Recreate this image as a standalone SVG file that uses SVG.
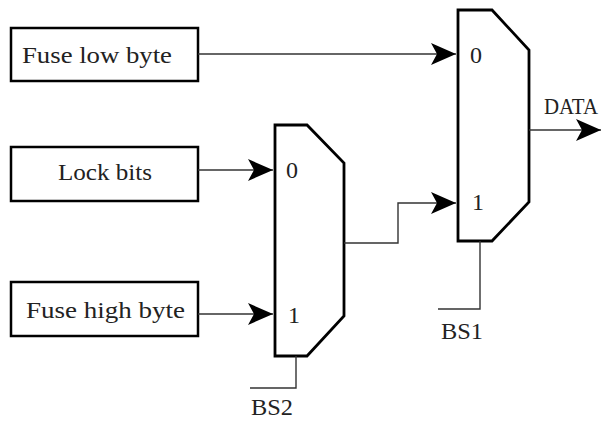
<svg xmlns="http://www.w3.org/2000/svg" width="603" height="421" viewBox="0 0 603 421">
<style>
.box{fill:#fff;stroke:#000;stroke-width:2.5}
.mux{fill:#fff;stroke:#000;stroke-width:2.8;stroke-linejoin:miter}
.wire{fill:none;stroke:#333;stroke-width:1.4}
text{font-family:"Liberation Serif","Times New Roman",serif;font-size:24px;fill:#222}
</style>
<defs>
<marker id="ah" markerUnits="userSpaceOnUse" markerWidth="26" markerHeight="24" refX="25" refY="11" orient="auto" viewBox="0 0 26 24">
<path d="M0,0 L25,11 L0,22 L6,11 Z" fill="#000"/>
</marker>
</defs>
<rect width="603" height="421" fill="#fff"/>
<g id="fuse-low"><rect class="box" x="11" y="28" width="187" height="53"/><text x="22" y="63" textLength="150" lengthAdjust="spacingAndGlyphs">Fuse low byte</text></g>
<g id="lock-bits"><rect class="box" x="11" y="147" width="187" height="54"/><text x="58" y="180" textLength="94" lengthAdjust="spacingAndGlyphs">Lock bits</text></g>
<g id="fuse-high"><rect class="box" x="11" y="282" width="187" height="54"/><text x="26" y="318" textLength="159" lengthAdjust="spacingAndGlyphs">Fuse high byte</text></g>
<g id="mux2"><polygon class="mux" points="275,125 307,125 344,163 344,316 307,356 275,356"/><text x="286" y="178">0</text><text x="288" y="323">1</text></g>
<g id="mux1"><polygon class="mux" points="458,10 492,10 529,50 529,202 492,241 458,241"/><text x="470" y="63">0</text><text x="472" y="210">1</text></g>
<g id="connectors">
<path class="wire" d="M198,54 H456" marker-end="url(#ah)"/>
<path class="wire" d="M198,170 H273" marker-end="url(#ah)"/>
<path class="wire" d="M198,314 H273" marker-end="url(#ah)"/>
<path class="wire" d="M344,243 H398 V203 H456" marker-end="url(#ah)"/>
<path class="wire" d="M529,130 H601" marker-end="url(#ah)"/>
<path class="wire" d="M480,241 V309 H438"/>
<path class="wire" d="M296,356 V388 H250"/>
</g>
<g id="labels">
<text transform="translate(544,114) scale(0.87,1)">DATA</text>
<text x="441" y="339" textLength="42" lengthAdjust="spacingAndGlyphs">BS1</text>
<text x="251" y="415" textLength="42" lengthAdjust="spacingAndGlyphs">BS2</text>
</g>
</svg>
